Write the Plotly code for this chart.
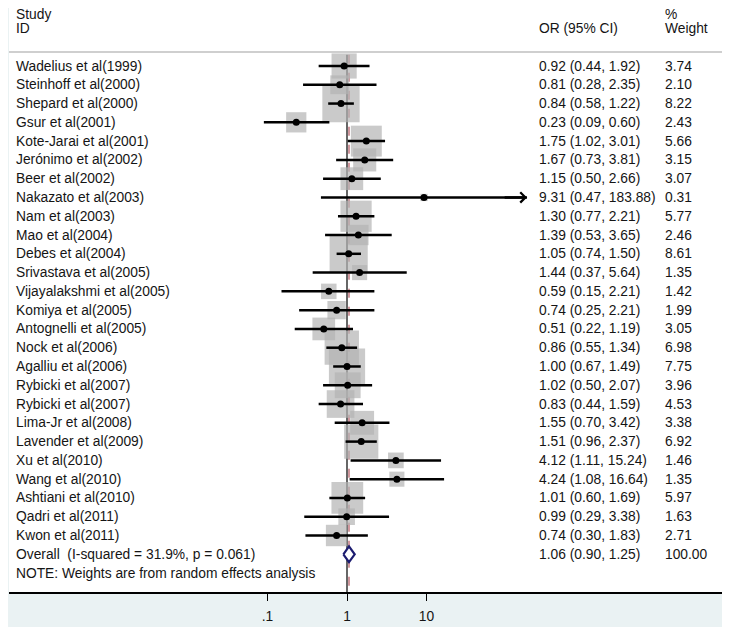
import math
import plotly.graph_objects as go

studies = ["Wadelius et al(1999)", "Steinhoff et al(2000)", "Shepard et al(2000)",
           "Gsur et al(2001)", "Kote-Jarai et al(2001)", "Jerónimo et al(2002)",
           "Beer et al(2002)", "Nakazato et al(2003)", "Nam et al(2003)",
           "Mao et al(2004)", "Debes et al(2004)", "Srivastava et al(2005)",
           "Vijayalakshmi et al(2005)", "Komiya et al(2005)", "Antognelli et al(2005)",
           "Nock et al(2006)", "Agalliu et al(2006)", "Rybicki et al(2007)",
           "Rybicki et al(2007)", "Lima-Jr et al(2008)", "Lavender et al(2009)",
           "Xu et al(2010)", "Wang et al(2010)", "Ashtiani et al(2010)",
           "Qadri et al(2011)", "Kwon et al(2011)"]
odds = [0.92, 0.81, 0.84, 0.23, 1.75, 1.67, 1.15, 9.31, 1.30, 1.39, 1.05, 1.44, 0.59,
        0.74, 0.51, 0.86, 1.00, 1.02, 0.83, 1.55, 1.51, 4.12, 4.24, 1.01, 0.99, 0.74]
lower = [0.44, 0.28, 0.58, 0.09, 1.02, 0.73, 0.50, 0.47, 0.77, 0.53, 0.74, 0.37, 0.15,
         0.25, 0.22, 0.55, 0.67, 0.50, 0.44, 0.70, 0.96, 1.11, 1.08, 0.60, 0.29, 0.30]
upper = [1.92, 2.35, 1.22, 0.60, 3.01, 3.81, 2.66, 183.88, 2.21, 3.65, 1.50, 5.64, 2.21,
         2.21, 1.19, 1.34, 1.49, 2.07, 1.59, 3.42, 2.37, 15.24, 16.64, 1.69, 3.38, 1.83]
weights = [3.74, 2.10, 8.22, 2.43, 5.66, 3.15, 3.07, 0.31, 5.77, 2.46, 8.61, 1.35, 1.42,
           1.99, 3.05, 6.98, 7.75, 3.96, 4.53, 3.38, 6.92, 1.46, 1.35, 5.97, 1.63, 2.71]

overall_label = "Overall\u00a0 (I-squared = 31.9%, p = 0.061)"
overall_or, overall_lo, overall_hi, overall_w = 1.06, 0.90, 1.25, 100.00
note = "NOTE: Weights are from random effects analysis"
tick_vals = [0.1, 1, 10]
tick_text = [".1", "1", "10"]

# page body has an 8px margin, so the figure sits at (8, 8) in the window
PAGE_W, PAGE_H, OFF = 730, 627, 8
W, H = PAGE_W - OFF, PAGE_H - OFF
FONT = "Liberation Sans, Arial, sans-serif"
TXT = "#151515"


def px_x(p):
    return (p - OFF) / W


# pixel geometry (page coordinates)
x1_px, decade_px = 347, 79.5
row0_px, row_px = 66, 18.78
axis_px = 592
left_px, right_px = 9, 723
dom_x = [px_x(left_px), px_x(right_px)]
dom_y = [1 - (axis_px - OFF) / H, 1]
xr = [(left_px - x1_px) / decade_px, (right_px - x1_px) / decade_px]
yr = [(axis_px - row0_px) / row_px, (OFF - row0_px) / row_px]

n = len(studies)
rows = list(range(n))
r_over = n
r_note = n + 1

fig = go.Figure()

# reference lines
fig.add_trace(go.Scatter(x=[1, 1], y=[-0.6, yr[0] + 1], mode="lines",
                         line=dict(color="black", width=1.2), hoverinfo="skip"))
fig.add_trace(go.Scatter(x=[overall_or, overall_or], y=[-0.6, yr[0] + 1], mode="lines",
                         line=dict(color="#a0303c", width=1, dash="dash"), hoverinfo="skip"))

# weight boxes
fig.add_trace(go.Scatter(x=odds, y=rows, mode="markers",
                         marker=dict(symbol="square", color="#b4b4b4",
                                     size=[13 * math.sqrt(w) for w in weights],
                                     line=dict(width=0)),
                         hoverinfo="skip"))

# confidence intervals
cx, cy = [], []
for lo, hi, r in zip(lower, upper, rows):
    cx += [lo, hi, None]
    cy += [r, r, None]
fig.add_trace(go.Scatter(x=cx, y=cy, mode="lines",
                         line=dict(color="black", width=2.5), hoverinfo="skip"))

fig.add_trace(go.Scatter(x=odds, y=rows, mode="markers",
                         marker=dict(color="black", size=7), hoverinfo="skip"))

# arrows for intervals running off scale
for hi, r in zip(upper, rows):
    if hi > 100:
        fig.add_annotation(x=math.log10(hi), y=r, ax=math.log10(hi) - 0.3, ay=r,
                           xref="x", yref="y", axref="x", ayref="y", text="",
                           showarrow=True, arrowhead=4, arrowsize=0.8,
                           arrowwidth=2.5, arrowcolor="black")

# overall diamond
h = 0.42
fig.add_trace(go.Scatter(x=[overall_lo, overall_or, overall_hi, overall_or, overall_lo],
                         y=[r_over, r_over - h, r_over, r_over + h, r_over],
                         mode="lines", fill="toself", fillcolor="white",
                         line=dict(color="#1c1c70", width=2.2), hoverinfo="skip"))

# header separator
fig.add_shape(type="line", xref="paper", yref="y", x0=dom_x[0], x1=dom_x[1],
              y0=-0.75, y1=-0.75, line=dict(color="#cfcfcf", width=2))

fs = 13.8
x_lab, x_or, x_w = px_x(14), px_x(537), px_x(663)


def txt(x, y, s):
    fig.add_annotation(x=x, y=y, xref="paper", yref="y", text=s, showarrow=False,
                       xanchor="left", yanchor="middle",
                       font=dict(family=FONT, size=fs, color=TXT))


txt(x_lab, -2.72, "Study")
txt(x_lab, -2, "ID")
txt(x_or, -2, "OR (95% CI)")
txt(x_w, -2.72, "%")
txt(x_w, -2, "Weight")

for s, o, lo, hi, w, r in zip(studies, odds, lower, upper, weights, rows):
    txt(x_lab, r, s)
    txt(x_or, r, f"{o:.2f} ({lo:.2f}, {hi:.2f})")
    txt(x_w, r, f"{w:.2f}")

txt(x_lab, r_over, overall_label)
txt(x_or, r_over, f"{overall_or:.2f} ({overall_lo:.2f}, {overall_hi:.2f})")
txt(x_w, r_over, f"{overall_w:.2f}")
txt(x_lab, r_note, note)

fig.update_layout(
    width=W, height=H, margin=dict(l=0, r=0, t=0, b=0),
    paper_bgcolor="#eaf2f3", plot_bgcolor="white", showlegend=False,
    xaxis=dict(type="log", range=xr, domain=dom_x, tickvals=tick_vals,
               ticktext=tick_text, ticks="outside", ticklen=7, tickwidth=1.2,
               tickcolor="black", showline=True, linecolor="black", linewidth=1.5,
               showgrid=False, zeroline=False, ticklabelstandoff=4,
               tickfont=dict(family=FONT, size=fs, color=TXT)),
    yaxis=dict(range=yr, domain=dom_y, visible=False, showgrid=False),
)

fig.write_html("out.html")
